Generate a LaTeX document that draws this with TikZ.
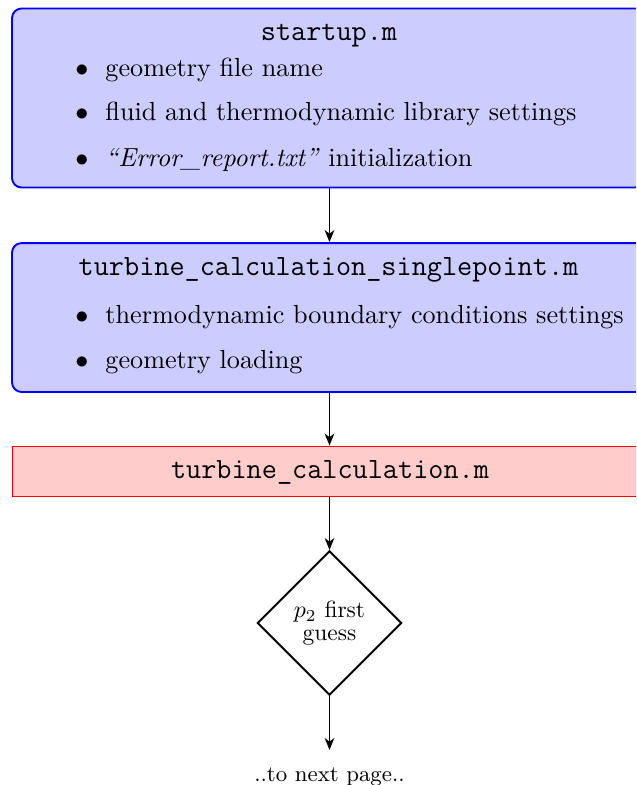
\documentclass[tikz,border=0pt]{standalone}
\usepackage{fontspec}
\usetikzlibrary{shapes.geometric,arrows.meta}
\begin{document}
\begin{tikzpicture}[x=0.41841pt,y=-0.41841pt,
  bluebox/.style={draw=blue,fill=blue!20,line width=0.8pt,rounded corners=4pt,rectangle,inner sep=0pt,minimum width=266.1pt},
  redbox/.style={draw=red,fill=red!20,line width=0.4pt,rectangle,inner sep=0pt,minimum width=266.1pt},
  decision/.style={draw=black,diamond,line width=0.8pt,inner sep=0pt,minimum width=60.3pt,minimum height=60.3pt,align=center,font=\fontsize{9.8}{9.4}\selectfont},
  titletxt/.style={anchor=base,inner sep=0pt,font=\fontsize{12.3}{14}\selectfont\ttfamily},
  itemtxt/.style={anchor=base west,inner sep=0pt,font=\fontsize{10.95}{13.6}\selectfont},
  bul/.style={anchor=base,inner sep=0pt,font=\fontsize{10.95}{13.6}\selectfont},
  flow/.style={draw=black,line width=0.75pt,-{Stealth[length=5pt,width=4pt,inset=1.5pt]}}]
\useasboundingbox (0,0) rectangle (636,785);
\clip (0,0) rectangle (636,785);
% boxes
\node[bluebox,minimum height=74.9pt] (b1) at (330,98) {};
\node[bluebox,minimum height=62.3pt] (b2) at (330,317.5) {};
\node[redbox,minimum height=21.3pt] (b3) at (330,471.5) {};
\node[decision] (d) at (329.5,623) {$p_2$ first\\guess};
\coordinate (e) at (329.5,750);
\node[anchor=base,inner sep=0pt,font=\fontsize{9.3}{11}\selectfont] (next) at (329.5,781) {..to next page..};
% box 1 text
\node[titletxt] (t1) at (329,40) {startup.m};
\node[bul] (u11) at (82,76) {$\bullet$};
\node[itemtxt] (i11) at (105,76) {geometry file name};
\node[bul] (u12) at (82,120) {$\bullet$};
\node[itemtxt] (i12) at (105,120) {fluid and thermodynamic library settings};
\node[bul] (u13) at (82,166) {$\bullet$};
\node[itemtxt] (i13) at (105,166) {\textit{``Error\_report.txt''} initialization};
% box 2 text
\node[titletxt] (t2) at (328.5,275) {turbine\_calculation\_singlepoint.m};
\node[bul] (u21) at (82,323) {$\bullet$};
\node[itemtxt] (i21) at (105,323) {thermodynamic boundary conditions settings};
\node[bul] (u22) at (82,368) {$\bullet$};
\node[itemtxt] (i22) at (105,368) {geometry loading};
% box 3 text
\node[titletxt] (t3) at (330,478) {turbine\_calculation.m};
% connectors
\draw[flow] (b1.south -| d.north) -- (b2.north -| d.north);
\draw[flow] (b2.south -| d.north) -- (b3.north -| d.north);
\draw[flow] (b3.south -| d.north) -- (d.north);
\draw[flow] (d.south) -- (e);
\end{tikzpicture}
\end{document}
